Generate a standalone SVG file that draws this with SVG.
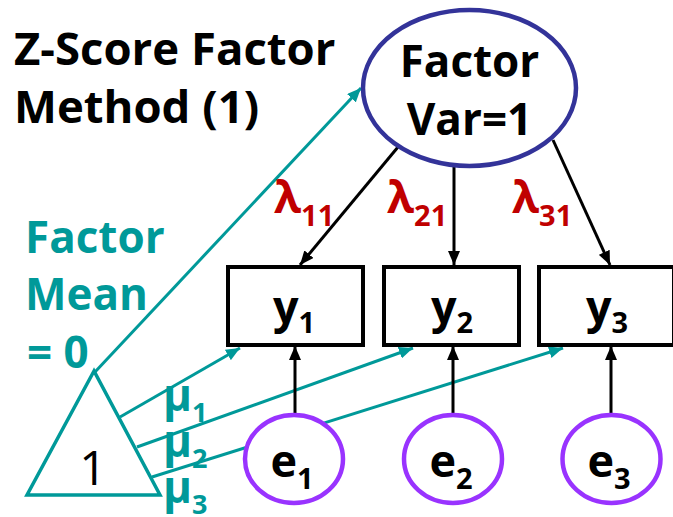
<svg xmlns="http://www.w3.org/2000/svg" width="673" height="517" viewBox="0 0 673 517">
<defs>
<style>
text{font-family:"Open Sans","Noto Sans","Liberation Sans",sans-serif;font-weight:bold}
.title{font-size:45.5px;fill:#000}
.teal{fill:#009999}
.red{fill:#C00000}
.blk{fill:#000}
.big{font-size:44px}
.lt{stroke:#009999;stroke-width:3;fill:none}
.lb{stroke:#000;stroke-width:3;fill:none}
.box{fill:#fff;stroke:#000;stroke-width:4}
.err{fill:#fff;stroke:#9933FF;stroke-width:4.5}
</style>
<marker id="ab" viewBox="0 0 14 12" refX="14" refY="6" markerWidth="14" markerHeight="12" markerUnits="userSpaceOnUse" orient="auto"><path d="M0,0 L14,6 L0,12 z" fill="#000"/></marker>
<marker id="at" viewBox="0 0 14 12" refX="14" refY="6" markerWidth="14" markerHeight="12" markerUnits="userSpaceOnUse" orient="auto"><path d="M0,0 L14,6 L0,12 z" fill="#009999"/></marker>
</defs>
<rect width="673" height="517" fill="#fff"/>
<g id="title">
<text class="title" x="14" y="65">Z-Score Factor</text>
<text class="title" x="14" y="123">Method (1)</text>
</g>
<g id="mean-label">
<text class="teal big" x="25" y="253">Factor</text>
<text class="teal big" x="25" y="310">Mean</text>
<text class="teal big" x="27" y="368">= 0</text>
</g>
<g id="connectors">
<line class="lt" x1="95" y1="372" x2="361" y2="88" marker-end="url(#at)"/>
<line class="lt" x1="120" y1="417" x2="240" y2="348" marker-end="url(#at)"/>
<line class="lt" x1="137" y1="447" x2="413" y2="348" marker-end="url(#at)"/>
<line class="lt" x1="152" y1="477" x2="563" y2="348" marker-end="url(#at)"/>
<line class="lb" x1="398" y1="147" x2="300" y2="265" marker-end="url(#ab)"/>
<line class="lb" x1="454" y1="167" x2="454" y2="265" marker-end="url(#ab)"/>
<line class="lb" x1="553" y1="140" x2="610" y2="265" marker-end="url(#ab)"/>
<line class="lb" x1="295" y1="415" x2="295" y2="346" marker-end="url(#ab)"/>
<line class="lb" x1="453" y1="415" x2="453" y2="346" marker-end="url(#ab)"/>
<line class="lb" x1="611" y1="415" x2="611" y2="346" marker-end="url(#ab)"/>
</g>
<g id="labels">
<text class="red" x="274" y="213"><tspan font-size="44">λ</tspan><tspan font-size="29" dy="13">11</tspan></text>
<text class="red" x="387" y="213"><tspan font-size="44">λ</tspan><tspan font-size="29" dy="13">21</tspan></text>
<text class="red" x="512" y="213"><tspan font-size="44">λ</tspan><tspan font-size="29" dy="13">31</tspan></text>
<text class="teal" x="163" y="411"><tspan font-size="44">μ</tspan><tspan font-size="27" dy="11">1</tspan></text>
<text class="teal" x="163" y="457"><tspan font-size="44">μ</tspan><tspan font-size="27" dy="11">2</tspan></text>
<text class="teal" x="163" y="503"><tspan font-size="44">μ</tspan><tspan font-size="27" dy="11">3</tspan></text>
</g>
<g id="factor">
<ellipse cx="469.5" cy="88" rx="106.5" ry="78" fill="#fff" stroke="#333399" stroke-width="4.5"/>
<text class="blk big" x="469.5" y="77" text-anchor="middle">Factor</text>
<text class="blk big" x="469.5" y="135" text-anchor="middle">Var=1</text>
</g>
<g id="intercept">
<polygon points="94,371 27,495 160,495" fill="#fff" stroke="#009999" stroke-width="3.5"/>
<text x="93" y="485" text-anchor="middle" style="font-weight:normal;font-size:48px;fill:#000">1</text>
</g>
<g id="y1">
<rect class="box" x="228" y="267" width="135" height="78"/>
<text class="blk" x="294" y="323" text-anchor="middle"><tspan font-size="45">y</tspan><tspan font-size="29" dy="10">1</tspan></text>
</g>
<g id="y2">
<rect class="box" x="384" y="267" width="135" height="78"/>
<text class="blk" x="452" y="323" text-anchor="middle"><tspan font-size="45">y</tspan><tspan font-size="29" dy="10">2</tspan></text>
</g>
<g id="y3">
<rect class="box" x="539" y="267" width="135" height="78"/>
<text class="blk" x="607" y="323" text-anchor="middle"><tspan font-size="45">y</tspan><tspan font-size="29" dy="10">3</tspan></text>
</g>
<g id="e1">
<ellipse class="err" cx="294" cy="459" rx="49" ry="44"/>
<text class="blk" x="292" y="477" text-anchor="middle"><tspan font-size="45">e</tspan><tspan font-size="29" dy="12">1</tspan></text>
</g>
<g id="e2">
<ellipse class="err" cx="453" cy="459" rx="49" ry="44"/>
<text class="blk" x="451" y="477" text-anchor="middle"><tspan font-size="45">e</tspan><tspan font-size="29" dy="12">2</tspan></text>
</g>
<g id="e3">
<ellipse class="err" cx="611.5" cy="459" rx="49" ry="44"/>
<text class="blk" x="609" y="477" text-anchor="middle"><tspan font-size="45">e</tspan><tspan font-size="29" dy="12">3</tspan></text>
</g>
</svg>
